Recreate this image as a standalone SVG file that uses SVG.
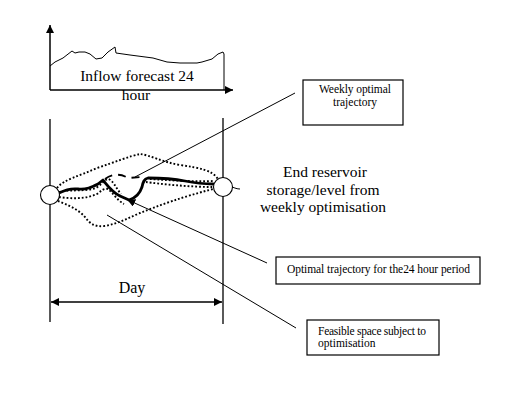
<svg xmlns="http://www.w3.org/2000/svg" width="517" height="394" viewBox="0 0 517 394">
<defs>
<marker id="ah" viewBox="0 0 10 10" refX="10" refY="5" markerWidth="9" markerHeight="8" markerUnits="userSpaceOnUse" orient="auto-start-reverse">
<path d="M0,0 L10,5 L0,10 z" fill="#000"/>
</marker>
<marker id="ahs" viewBox="0 0 10 10" refX="9" refY="5" markerWidth="8" markerHeight="8" markerUnits="userSpaceOnUse" orient="auto">
<path d="M0,0 L10,5 L0,10 z" fill="#000"/>
</marker>
</defs>
<style>
.t{font-family:"Liberation Serif","Times New Roman",serif;fill:#000}
.big{font-size:15.5px}
.sm{font-size:11.5px}
.ax{stroke:#000;stroke-width:1.5;fill:none}
.vl{stroke:#000;stroke-width:1.3;fill:none}
.ptr{stroke:#000;stroke-width:1;fill:none}
.dot{stroke:#000;stroke-width:1.9;fill:none;stroke-dasharray:1.8,2}
.box{fill:#fff;stroke:#000;stroke-width:1.2}
.traj{stroke:#000;stroke-width:2.8;fill:none;stroke-linejoin:round;stroke-linecap:round}
.node{fill:#fff;stroke:#000;stroke-width:1.1}
</style>
<rect width="517" height="394" fill="#fff"/>

<g id="inflow-chart">
<line class="ax" x1="50" y1="90" x2="50" y2="25" marker-end="url(#ah)"/>
<line class="ax" x1="50" y1="90" x2="233" y2="90" marker-end="url(#ah)"/>
<path d="M50,66 L55,62 L63,58 L72,51 L75,53 L79,52 L85,52 L90,54 L96,59 L102,58 L108,52 L115,47 L116,53 L130,55 L153,58 L167,62 L180,63 L197,63 L202,62 L212,59 L218,54 L223,52 L224,54 L224,90" fill="none" stroke="#000" stroke-width="1"/>
<text class="t big" x="137" y="81" text-anchor="middle">Inflow forecast 24</text>
<text class="t big" x="136" y="100" text-anchor="middle">hour</text>
</g>

<g id="day-frame">
<line class="vl" x1="50" y1="119" x2="50" y2="322"/>
<line class="vl" x1="223" y1="118" x2="223" y2="324"/>
<line class="ax" x1="51" y1="302" x2="222" y2="302" marker-start="url(#ah)" marker-end="url(#ah)"/>
<text class="t" style="font-size:16px" x="132" y="293" text-anchor="middle">Day</text>
</g>

<g id="feasible-space">
<path class="dot" d="M57,188 C64,179 80,176 97,168 C115,162 130,156 140,154 C150,155 162,162 180,165 C200,168 212,170 218,179"/>
<path class="dot" d="M58,201 C66,204 78,209 85,217 C90,224 95,227 104,226 C118,224 128,218 140,213 C160,205 182,197 213,189"/>
<path class="dot" d="M59,192 C70,189 84,192 96,188 C101,185 104,180 108,179 C113,180 116,188 121,194"/>
<path class="dot" d="M59,197 C72,199 86,199 97,194 C101,191 104,188 108,189 C113,193 118,201 124,204"/>
<path class="dot" d="M146,182 C160,184 190,187 213,187"/>
<path class="dot" d="M150,179 C165,180 195,182 214,181"/>
</g>

<g id="trajectory">
<path class="traj" d="M59,193 C65,190 70,188 78,189 C86,190 92,187 98,184 L103,180 C107,185 112,192 120,196 L129,200 C136,198 140,193 142,187 C143,182 144,179 148,178 C160,178 175,179 185,181 C195,183 205,184 213,184"/>
<path d="M105,179 C112,174 120,173 128,178 L142,177" fill="none" stroke="#000" stroke-width="1.8" stroke-dasharray="8,6"/>
</g>

<g id="start-node"><circle class="node" cx="50" cy="195" r="9.5"/></g>
<g id="end-node">
<circle class="node" cx="223" cy="187" r="9.5"/>
<path d="M232,187 C235,188 237,189 240,189" fill="none" stroke="#000" stroke-width="1"/>
</g>

<g id="connectors">
<line class="ptr" x1="295" y1="93" x2="135" y2="177"/>
<line class="ptr" x1="267" y1="263" x2="128" y2="200" marker-end="url(#ahs)"/>
<line class="ptr" x1="296" y1="328" x2="107" y2="215"/>
</g>

<g id="end-label">
<text class="t big" x="325" y="177" text-anchor="middle">End reservoir</text>
<text class="t big" x="323" y="195" text-anchor="middle">storage/level  from</text>
<text class="t big" x="323" y="212" text-anchor="middle">weekly optimisation</text>
</g>

<g id="weekly-box">
<rect class="box" x="303" y="80" width="100" height="45"/>
<text class="t sm" x="355" y="93" text-anchor="middle" textLength="72">Weekly optimal</text>
<text class="t sm" x="355" y="106" text-anchor="middle">trajectory</text>
</g>

<g id="optimal-box">
<rect class="box" x="276" y="257" width="204" height="27"/>
<text class="t sm" x="378.5" y="273" text-anchor="middle" textLength="183">Optimal trajectory for the24 hour period</text>
</g>

<g id="feasible-box">
<rect class="box" x="307" y="320" width="132" height="35"/>
<text class="t sm" x="318" y="335" textLength="108">Feasible space subject to</text>
<text class="t sm" x="318" y="347">optimisation</text>
</g>
</svg>
